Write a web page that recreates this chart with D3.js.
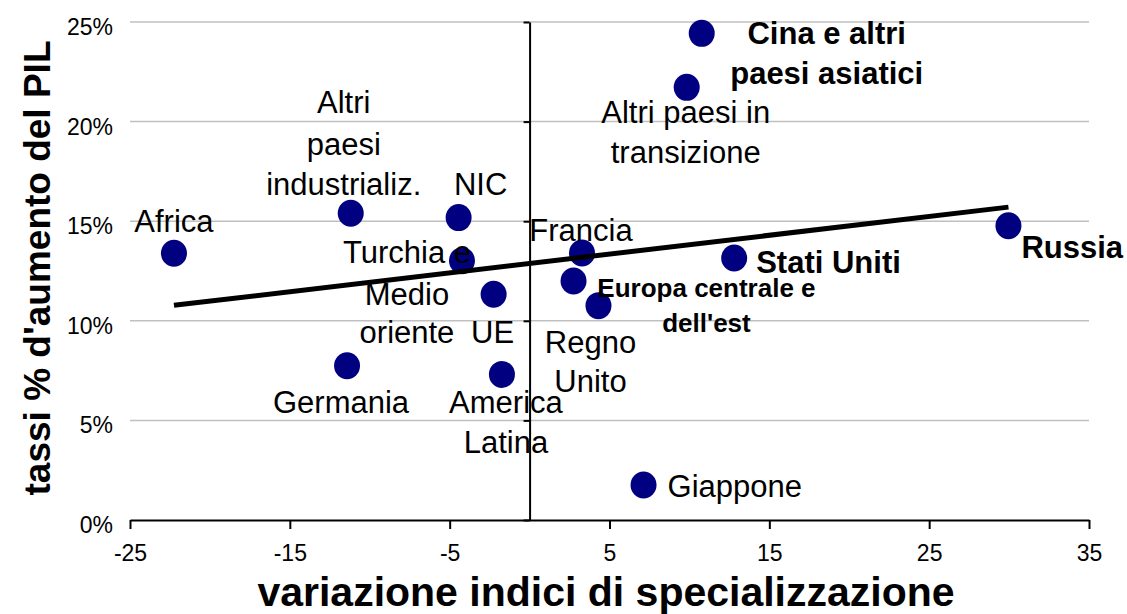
<!DOCTYPE html>
<html>
<head>
<meta charset="utf-8">
<script src="https://d3js.org/d3.v7.min.js"></script>
<style>
	body { margin: 0; background: #fff; }
	text { font-family: "Liberation Sans", Arial, sans-serif; }
</style>
</head>
<body>
<div id="chart"></div>
<script>
// values
var countries = ["Cina e altri paesi asiatici", "Altri paesi in transizione", "Russia", "Stati Uniti",
	"Europa centrale e dell'est", "Francia", "Regno Unito", "Giappone", "America Latina", "UE",
	"Turchia e Medio oriente", "NIC", "Altri paesi industrializ.", "Germania", "Africa"]
var specVar = [10.77, 9.83, 29.96, 12.8, 4.31, 3.28, 2.75, 7.13, -1.73, -2.25, -4.23, -4.44, -11.19, -11.42, -22.25]
var gdpGrowth = [24.43, 21.72, 14.77, 13.15, 10.76, 13.40, 12.0, 1.76, 7.31, 11.33, 13.02, 15.18, 15.40, 7.74, 13.39]

var xTicks = [-25, -15, -5, 5, 15, 25, 35]
var yTicks = [0, 5, 10, 15, 20, 25]

// label layout: lines, offset from the dot, anchor, weight
var labelLayout = {
	"Cina e altri paesi asiatici": {lines: ["Cina e altri", "paesi asiatici"], dx: 125, dy: [11, 51], anchor: "middle", bold: true, size: 31},
	"Altri paesi in transizione": {lines: ["Altri paesi in", "transizione"], dx: -1, dy: [36, 76], anchor: "middle"},
	"Russia": {lines: ["Russia"], dx: 13, dy: [32], anchor: "start", bold: true, size: 31},
	"Stati Uniti": {lines: ["Stati Uniti"], dx: 22, dy: [15], anchor: "start", bold: true, size: 31},
	"Europa centrale e dell'est": {lines: ["Europa centrale e", "dell'est"], dx: 108, dy: [-9, 26], anchor: "middle", bold: true, size: 26},
	"Francia": {lines: ["Francia"], dx: -1, dy: [-12], anchor: "middle"},
	"Regno Unito": {lines: ["Regno", "Unito"], dx: 17, dy: [72, 111], anchor: "middle"},
	"Giappone": {lines: ["Giappone"], dx: 24, dy: [12], anchor: "start"},
	"America Latina": {lines: ["America", "Latina"], dx: 4, dy: [39, 79], anchor: "middle"},
	"UE": {lines: ["UE"], dx: -1, dy: [49], anchor: "middle"},
	"Turchia e Medio oriente": {lines: ["Turchia e", "Medio", "oriente"], dx: -55, dy: [2, 44, 82], anchor: "middle"},
	"NIC": {lines: ["NIC"], dx: 22, dy: [-23], anchor: "middle"},
	"Altri paesi industrializ.": {lines: ["Altri", "paesi", "industrializ."], dx: -7, dy: [-100, -58, -18], anchor: "middle"},
	"Germania": {lines: ["Germania"], dx: -6, dy: [47], anchor: "middle"},
	"Africa": {lines: ["Africa"], dx: 0, dy: [-21], anchor: "middle"}
}

var data = countries.map(function(c, i){
	return {name: c, x: specVar[i], y: gdpGrowth[i]}
})

var margin = {top: 22, right: 38, bottom: 94, left: 130},
	width = 1127 - margin.left - margin.right,
	height = 614 - margin.top - margin.bottom;

var svg = d3.select("#chart")
	.append("svg")
	.attr("width", 1127)
	.attr("height", 614)

var g = svg.append("g")
	.attr("transform", "translate(" + margin.left + "," + margin.top + ")")

var xScale = d3.scaleLinear()
	.domain([-25, 35])
	.range([0, width])

var yScale = d3.scaleLinear()
	.domain([0, 25])
	.range([height, 0])

// gridlines
g.selectAll(".grid")
	.data(yTicks.filter(function(d){ return d > 0 }))
	.enter().append("line")
	.attr("class", "grid")
	.attr("x1", 0)
	.attr("x2", width)
	.attr("y1", function(d){ return yScale(d) })
	.attr("y2", function(d){ return yScale(d) })
	.attr("stroke", "#c0c0c0")
	.attr("stroke-width", 1.5)

// x axis along 0%
var xAxis = g.append("g")
	.attr("transform", "translate(0," + height + ")")
	.call(d3.axisBottom(xScale)
		.tickValues(xTicks)
		.tickSize(9)
		.tickSizeOuter(0)
		.tickPadding(16)
		.tickFormat(function(d){ return String(d) }))
xAxis.attr("font-size", null).attr("font-family", null)
xAxis.select(".domain").attr("stroke", "#000").attr("stroke-width", 2)
xAxis.selectAll(".tick line").attr("stroke", "#000").attr("stroke-width", 2)
xAxis.selectAll("text")
	.style("font-size", "23px")
	.attr("fill", "#000")

// y axis crosses at x = 0
var yAxis = g.append("g")
	.attr("transform", "translate(" + xScale(0) + ",0)")
	.call(d3.axisLeft(yScale).tickValues(yTicks).tickSize(6).tickSizeOuter(0).tickFormat(""))
yAxis.select(".domain").attr("stroke", "#000").attr("stroke-width", 2)
yAxis.selectAll(".tick line").attr("stroke", "#000").attr("stroke-width", 2)

// y tick labels sit at the left edge
g.selectAll(".ylabel")
	.data(yTicks)
	.enter().append("text")
	.attr("class", "ylabel")
	.attr("x", -17)
	.attr("y", function(d){ return yScale(d) + 13 })
	.attr("text-anchor", "end")
	.style("font-size", "23px")
	.text(function(d){ return d + "%" })

// dots
g.selectAll(".dot")
	.data(data)
	.enter().append("ellipse")
	.attr("class", "dot")
	.attr("cx", function(d){ return xScale(d.x) })
	.attr("cy", function(d){ return yScale(d.y) })
	.attr("rx", 13)
	.attr("ry", 13.5)
	.attr("fill", "#000080")

// linear trend (least squares)
var mx = d3.mean(data, function(d){ return d.x }),
	my = d3.mean(data, function(d){ return d.y });
var sxy = d3.sum(data, function(d){ return (d.x - mx) * (d.y - my) }),
	sxx = d3.sum(data, function(d){ return (d.x - mx) * (d.x - mx) });
var slope = sxy / sxx,
	intercept = my - slope * mx;
var xMin = d3.min(specVar), xMax = d3.max(specVar);

g.append("line")
	.attr("x1", xScale(xMin))
	.attr("x2", xScale(xMax))
	.attr("y1", yScale(intercept + slope * xMin))
	.attr("y2", yScale(intercept + slope * xMax))
	.attr("stroke", "#000")
	.attr("stroke-width", 5)

// labels
data.forEach(function(d){
	var lay = labelLayout[d.name]
	var px = xScale(d.x), py = yScale(d.y)
	lay.lines.forEach(function(line, i){
		g.append("text")
			.attr("x", px + lay.dx)
			.attr("y", py + lay.dy[i])
			.attr("text-anchor", lay.anchor)
			.attr("font-size", (lay.size || 31) + "px")
			.attr("font-weight", lay.bold ? "bold" : "normal")
			.attr("fill", "#000")
			.text(line)
	})
})

// axis titles
svg.append("text")
	.attr("x", 606)
	.attr("y", 606)
	.attr("text-anchor", "middle")
	.attr("font-size", "41px")
	.attr("font-weight", "bold")
	.text("variazione indici di specializzazione")

svg.append("text")
	.attr("transform", "translate(50,268) rotate(-90)")
	.attr("text-anchor", "middle")
	.attr("font-size", "37px")
	.attr("font-weight", "bold")
	.text("tassi % d'aumento del PIL")
</script>
</body>
</html>
